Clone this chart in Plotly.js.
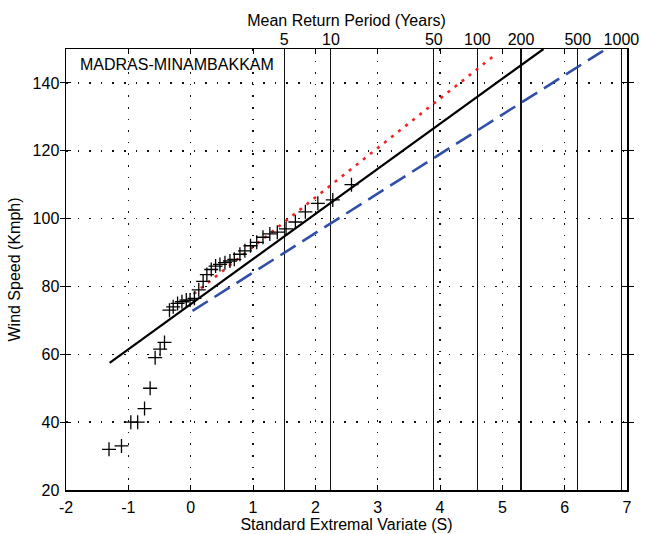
<!DOCTYPE html>
<html><head><meta charset="utf-8">
<script src="https://cdn.plot.ly/plotly-3.0.1.min.js"></script>
<style>body{margin:0;background:#fff}</style>
</head><body><div id="chart" style="width:654px;height:534px"></div>
<script>
// Observed annual maximum wind speeds (reduced variate, speed)
const obsX = [-1.31,-1.11,-0.96,-0.85,-0.74,-0.65,-0.57,-0.49,-0.42,
  -0.34,-0.28,-0.21,-0.14,-0.07,-0.01,0.06,0.13,0.20,0.26,0.33,0.40,0.47,
  0.55,0.63,0.70,0.79,0.87,0.96,1.06,1.16,1.27,1.39,1.53,1.68,1.84,2.04,2.28,2.58];
const obsY = [32,33,40,40,44,50,59,61.5,63.5,
  73,74,75,75.5,76,76,76.5,79,81.5,83.5,85,86,86.5,
  87,87.5,88,89.5,90.5,92,93,94.5,95.5,96,97,99,102,104.5,105.5,110];
// Fitted lines (end points)
const fitX = [-1.3, 5.66];   const fitY = [57.5, 150];
const redX = [0.05, 4.9];    const redY = [77.8, 148.5];
const blueX = [0.03, 6.62];  const blueY = [72.8, 149.5];
// Axis ticks
const xTicks = [-2,-1,0,1,2,3,4,5,6,7];
const yTicks = [20,40,60,80,100,120,140];
const rpPos = [1.50, 2.25, 3.90, 4.60, 5.30, 6.21, 6.91];
const rpLabels = ['5','10','50','100','200','500','1000'];

const FONT = {family:'"Liberation Sans", Arial, sans-serif', size:16, color:'#000'};

const traces = [
  {x: fitX, y: fitY, mode:'lines', line:{color:'#000', width:2.2}, hoverinfo:'skip'},
  {x: redX, y: redY, mode:'lines', line:{color:'#ee2222', width:2.6, dash:'3px,6px'}, hoverinfo:'skip'},
  {x: blueX, y: blueY, mode:'lines', line:{color:'#2f4fa8', width:2.6, dash:'18px,8px'}, hoverinfo:'skip'},
  {x: obsX, y: obsY, mode:'markers', marker:{symbol:'cross-thin', size:10, line:{color:'#000', width:1.3}, color:'#000'}, hoverinfo:'skip'},
  {x: [], y: [], xaxis:'x2', yaxis:'y', mode:'markers', hoverinfo:'skip'}
];

const layout = {
  width:654, height:534, showlegend:false,
  paper_bgcolor:'#fff', plot_bgcolor:'#fff',
  font: FONT,
  margin:{l:66, r:27, t:49, b:44, pad:0},
  xaxis:{range:[-2,7], tickvals:xTicks, ticktext:xTicks.map(String),
    showline:true, linecolor:'#000', linewidth:1.5, mirror:'allticks',
    ticks:'inside', ticklen:5, tickcolor:'#000', tickwidth:1,
    showgrid:true, gridcolor:'#111', gridwidth:1.6, griddash:'1.6px,10px',
    zeroline:false, automargin:false, ticklabelstandoff:2,
    title:{text:'Standard Extremal Variate (S)', font:FONT, standoff:4}},
  xaxis2:{range:[-2,7], overlaying:'x', side:'top', anchor:'y',
    tickvals:rpPos, ticktext:rpLabels, ticks:'', showline:false,
    showgrid:true, gridcolor:'#111', gridwidth:1.1, zeroline:false, automargin:false,
    title:{text:'Mean Return Period (Years)', font:FONT, standoff:0}},
  yaxis:{range:[20,150], tickvals:yTicks, ticktext:yTicks.map(String),
    showline:true, linecolor:'#000', linewidth:1.5, mirror:'allticks',
    ticks:'inside', ticklen:5, tickcolor:'#000', tickwidth:1,
    showgrid:true, gridcolor:'#111', gridwidth:1.6, griddash:'1.6px,10px',
    zeroline:false, automargin:false, ticklabelstandoff:2,
    title:{text:'Wind Speed (Kmph)', font:FONT, standoff:8}},
  annotations:[{text:'MADRAS-MINAMBAKKAM', xref:'paper', yref:'paper',
    x:0.021, y:0.964, xanchor:'left', yanchor:'middle', showarrow:false, font:FONT}]
};

Plotly.newPlot('chart', traces, layout, {staticPlot:true, displayModeBar:false});
</script></body></html>
